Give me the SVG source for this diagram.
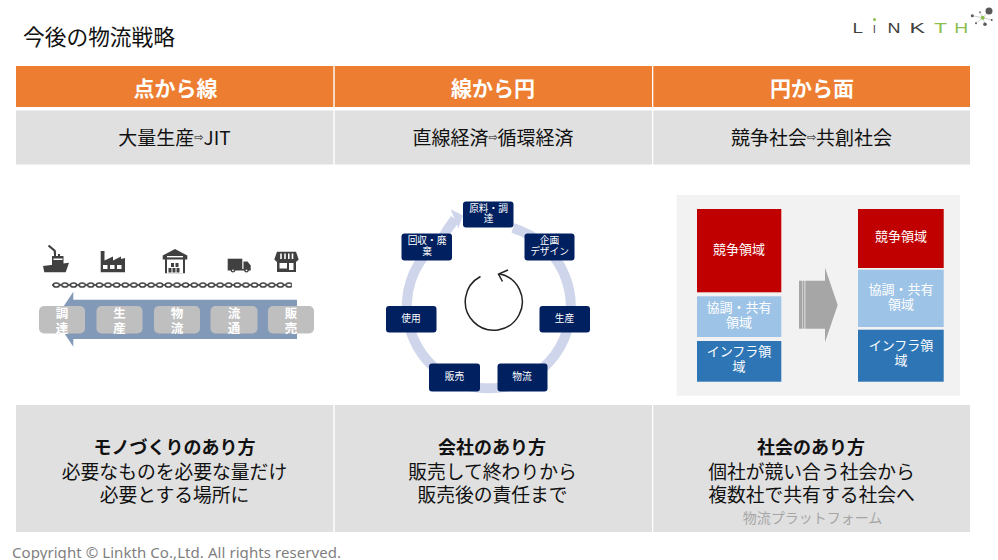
<svg xmlns="http://www.w3.org/2000/svg" width="998" height="560" viewBox="0 0 998 560">
<style>
text{font-family:"Noto Sans CJK JP","Noto Sans",sans-serif;text-anchor:middle;dominant-baseline:central}
.hd{fill:#ED7D31}.gy{fill:#E0E0E0}
.ht{font-size:21px;fill:#fff;font-weight:700}
.st{font-size:19px;fill:#111}
.sa{font-size:11px;font-family:"DejaVu Sans",sans-serif;fill:#111}
.bt{font-size:18px;fill:#111;font-weight:700}
.bl{font-size:18.8px;fill:#111;font-weight:400}
.pill{fill:#BFBFBF}
.pt{font-size:12.5px;fill:#fff;font-weight:700}
.cn{fill:#002060}
.ct{font-size:9.7px;fill:#fff}
.ic{fill:#404040}.wh{fill:#fff}
.rt{font-size:13px;fill:#fff}
.red{fill:#C00000}.lb{fill:#9DC3E6}.blu{fill:#2E75B6}
.lg{font-family:"Liberation Sans",sans-serif;font-size:15px;text-anchor:start;dominant-baseline:alphabetic}
.dk{fill:#404040}.gn{fill:#8CBF4F}
</style>
<defs>
<pattern id="chain" x="52" y="280" width="8.62" height="10" patternUnits="userSpaceOnUse">
<line x1="0" y1="5" x2="8.62" y2="5" stroke="#404040" stroke-width="1.6"/>
<ellipse cx="4.3" cy="5" rx="3" ry="2.1" fill="#fff" stroke="#404040" stroke-width="1.5"/>
</pattern>
</defs>
<rect width="998" height="560" fill="#fff"/>
<text id="title" x="99" y="35" font-size="21.7" fill="#111">今後の物流戦略</text>
<g id="logo">
<text class="lg dk" x="852.500" y="32.500" textLength="10.500" lengthAdjust="spacingAndGlyphs">L</text>
<text class="lg dk" x="872.800" y="32.500" textLength="3.200" lengthAdjust="spacingAndGlyphs">ı</text>
<text class="lg dk" x="887.500" y="32.500" textLength="13" lengthAdjust="spacingAndGlyphs">N</text>
<text class="lg dk" x="909.500" y="32.500" textLength="15.500" lengthAdjust="spacingAndGlyphs">K</text>
<text class="lg gn" x="934" y="32.500" textLength="13" lengthAdjust="spacingAndGlyphs">T</text>
<text class="lg gn" x="954.300" y="32.500" textLength="14" lengthAdjust="spacingAndGlyphs">H</text>
<circle cx="874.500" cy="19.500" r="1.500" class="gn"/>
<path d="M972.300,15.700L982.700,17.700L989,11M980,12.300L982.700,17.700L985,24.300M976,23.300L982.700,17.700L991.700,20" stroke="#A6A6A6" stroke-width="0.500" fill="none"/>
<circle cx="989" cy="11" r="3.500" fill="#595959"/>
<circle cx="982.700" cy="17.700" r="2" class="gn"/>
<circle cx="972.300" cy="15.700" r="1.500" fill="#595959"/>
<circle cx="980" cy="12.300" r="1" fill="#7F7F7F"/>
<circle cx="976" cy="23.300" r="1" fill="#595959"/>
<circle cx="991.700" cy="20" r="1" fill="#595959"/>
<circle cx="985" cy="24.300" r="1.800" fill="#595959"/>
</g>
<g id="col1-header"><rect class="hd" x="16" y="66" width="317.300" height="41"/><text class="ht" x="175.500" y="86.500">点から線</text></g>
<g id="col2-header"><rect class="hd" x="334.700" y="66" width="317.300" height="41"/><text class="ht" x="493" y="86.500">線から円</text></g>
<g id="col3-header"><rect class="hd" x="653.300" y="66" width="316.700" height="41"/><text class="ht" x="812" y="86.500">円から面</text></g>
<g id="col1-sub"><rect class="gy" x="16" y="110.500" width="317.300" height="54"/><text class="st" x="174.500" y="136.500">大量生産<tspan class="sa">⇨</tspan>JIT</text></g>
<g id="col2-sub"><rect class="gy" x="334.700" y="110.500" width="317.300" height="54"/><text class="st" x="493" y="136.500">直線経済<tspan class="sa">⇨</tspan>循環経済</text></g>
<g id="col3-sub"><rect class="gy" x="653.300" y="110.500" width="316.700" height="54"/><text class="st" x="811.500" y="136.500">競争社会<tspan class="sa">⇨</tspan>共創社会</text></g>

<g id="icons">
<g id="icon-ship" class="ic">
<path d="M48.500,245.500L54.700,250.700L55,254" stroke="#404040" stroke-width="2.200" fill="none"/>
<path d="M52,265V256h2v-2h2v2h2v-2h2v2h3.500v9z"/>
<rect class="wh" x="53.500" y="258.500" width="9" height="1.500"/>
<path d="M43,266L69,262.700L65.700,272.300H44.300Z"/>
</g>
<g id="icon-factory">
<path class="ic" d="M100.700,272.300V251H104.500V260.500L113,256.500V260.500L121,256.500V259L125,258V272.300Z"/>
<rect class="wh" x="103" y="265" width="4.500" height="4"/><rect class="wh" x="110" y="265" width="4.500" height="4"/><rect class="wh" x="117" y="265" width="4.500" height="4"/>
</g>
<g id="icon-warehouse">
<path class="ic" d="M162.700,255.500L175,249L187.300,255.500V259.500H185V273.300H165V259.500H162.700Z"/>
<rect class="wh" x="167" y="256" width="16" height="1.400"/>
<rect class="wh" x="167" y="259.500" width="16" height="13.800"/>
<rect class="ic" x="171" y="263" width="3" height="4"/><rect class="ic" x="175.500" y="263" width="3" height="4"/>
<rect class="ic" x="168.500" y="268" width="3" height="4.500"/><rect class="ic" x="172.500" y="268" width="3" height="4.500"/><rect class="ic" x="176.500" y="268" width="3" height="4.500"/>
</g>
<g id="icon-truck">
<rect class="ic" x="227.700" y="258.700" width="14.600" height="10.300"/>
<path class="ic" d="M243.500,261.500H247.500L250.700,265.500V269.500H243.500Z"/>
<rect class="ic" x="227.700" y="269" width="23" height="1.500"/>
<circle class="ic" cx="233" cy="270.300" r="2.300"/><circle class="ic" cx="246.500" cy="270.300" r="2.300"/>
<circle class="wh" cx="233" cy="270.300" r="0.900"/><circle class="wh" cx="246.500" cy="270.300" r="0.900"/>
</g>
<g id="icon-shop">
<path class="ic" d="M277,251.700H296L298.700,259.500L296,262V272H277V262L274.300,259.500Z"/>
<path d="M281,253.500V259M285,253.500V259M288.800,253.500V259M292.500,253.500V259" stroke="#fff" stroke-width="1.600"/>
<rect class="wh" x="279.500" y="263" width="7.500" height="5.500"/>
<rect class="wh" x="289" y="263" width="4.500" height="7"/>
</g>
</g>
<rect id="chain-bar" x="52" y="280" width="240" height="10" fill="url(#chain)"/>

<rect id="panel" x="676.700" y="195" width="283.300" height="200.700" fill="#F2F2F2"/>

<g id="connectors">
<polygon id="flow-arrow" points="297,299.700 73.300,299.700 73.300,291.700 55,319.300 73.300,346.700 73.300,339 297,339" fill="#829AB8"/>
<path id="cycle-ring" d="M513,228A82,82 0 1 1 442,239Q447,229 455,219" fill="none" stroke="#CFD5EA" stroke-width="10"/>
<polygon id="cycle-head" points="450.700,209.300 463,215.500 458.300,228.300" fill="#CFD5EA"/>
<path id="center-arrow" d="M480.500,276.500A28.500,28.500 0 1 0 499,273.700" fill="none" stroke="#222" stroke-width="1.500"/>
<path id="center-head" d="M508,270L498.500,274L502.500,281.500" fill="none" stroke="#222" stroke-width="1.500"/>
<g id="shift-arrow" fill="#A6A6A6">
<polygon points="805.300,280.700 825,280.700 825,267.700 837.700,305 825,342.300 825,328.700 805.300,328.700"/>
<rect x="799" y="280.700" width="3.500" height="48"/>
<rect x="803" y="280.700" width="1.500" height="48"/>
</g>
</g>

<g id="n-chotatsu"><rect class="pill" x="39" y="306" width="46" height="27.500" rx="5"/><text class="pt"><tspan x="62" y="312">調</tspan><tspan x="62" y="326.500">達</tspan></text></g>
<g id="n-seisan"><rect class="pill" x="96.500" y="306" width="46" height="27.500" rx="5"/><text class="pt"><tspan x="119.500" y="312">生</tspan><tspan x="119.500" y="326.500">産</tspan></text></g>
<g id="n-butsuryu"><rect class="pill" x="154" y="306" width="46" height="27.500" rx="5"/><text class="pt"><tspan x="177" y="312">物</tspan><tspan x="177" y="326.500">流</tspan></text></g>
<g id="n-ryutsu"><rect class="pill" x="210.500" y="306" width="47" height="27.500" rx="5"/><text class="pt"><tspan x="234" y="312">流</tspan><tspan x="234" y="326.500">通</tspan></text></g>
<g id="n-hanbai"><rect class="pill" x="268" y="306" width="46" height="27.500" rx="5"/><text class="pt"><tspan x="291" y="312">販</tspan><tspan x="291" y="326.500">売</tspan></text></g>

<g id="c-genryo"><rect class="cn" x="463" y="201.500" width="50.500" height="26" rx="3"/><text class="ct"><tspan x="488.500" y="207.500">原料・調</tspan><tspan x="488.500" y="218">達</tspan></text></g>
<g id="c-kikaku"><rect class="cn" x="524.500" y="233.500" width="50" height="27" rx="3"/><text class="ct"><tspan x="549.500" y="240">企画</tspan><tspan x="549.500" y="250.500">デザイン</tspan></text></g>
<g id="c-seisan"><rect class="cn" x="539.500" y="306" width="50.500" height="26.500" rx="3"/><text class="ct" x="564.500" y="317.500">生産</text></g>
<g id="c-butsuryu"><rect class="cn" x="497.500" y="363.500" width="50" height="28" rx="3"/><text class="ct" x="522" y="376">物流</text></g>
<g id="c-hanbai"><rect class="cn" x="429" y="363.500" width="51" height="28" rx="3"/><text class="ct" x="454.500" y="376">販売</text></g>
<g id="c-shiyo"><rect class="cn" x="386" y="306" width="50.500" height="26.500" rx="3"/><text class="ct" x="411" y="317.500">使用</text></g>
<g id="c-kaishu"><rect class="cn" x="401.500" y="233.500" width="50.500" height="27" rx="3"/><text class="ct"><tspan x="427" y="240">回収・廃</tspan><tspan x="427" y="250.500">棄</tspan></text></g>

<g id="l-compete"><rect class="red" x="697" y="209" width="84.300" height="83.300"/><text class="rt" x="739" y="248.500">競争領域</text></g>
<g id="l-coop"><rect class="lb" x="697" y="296.300" width="84.300" height="40.700"/><text class="rt"><tspan x="739" y="305.800">協調・共有</tspan><tspan x="739" y="321.200">領域</tspan></text></g>
<g id="l-infra"><rect class="blu" x="697" y="341" width="84.300" height="40.700"/><text class="rt"><tspan x="739" y="350.200">インフラ領</tspan><tspan x="739" y="365.200">域</tspan></text></g>
<g id="r-compete"><rect class="red" x="858" y="209" width="85.700" height="59"/><text class="rt" x="901" y="235.200">競争領域</text></g>
<g id="r-coop"><rect class="lb" x="858" y="269.700" width="85.700" height="57.300"/><text class="rt"><tspan x="901" y="287.500">協調・共有</tspan><tspan x="901" y="302.800">領域</tspan></text></g>
<g id="r-infra"><rect class="blu" x="858" y="329.700" width="85.700" height="52"/><text class="rt"><tspan x="901" y="343.500">インフラ領</tspan><tspan x="901" y="358.500">域</tspan></text></g>

<g id="col1-foot"><rect class="gy" x="16" y="405" width="317.300" height="127"/><text class="bl"><tspan class="bt" x="174.500" y="446">モノづくりのあり方</tspan><tspan x="174.500" y="469.500">必要なものを必要な量だけ</tspan><tspan x="174.500" y="492.500">必要とする場所に</tspan></text></g>
<g id="col2-foot"><rect class="gy" x="334.700" y="405" width="317.300" height="127"/><text class="bl"><tspan class="bt" x="492" y="446">会社のあり方</tspan><tspan x="492.500" y="469.500">販売して終わりから</tspan><tspan x="492.500" y="492.500">販売後の責任まで</tspan></text></g>
<g id="col3-foot"><rect class="gy" x="653.300" y="405" width="316.700" height="127"/><text class="bl"><tspan class="bt" x="811" y="446">社会のあり方</tspan><tspan x="811.500" y="469.500">個社が競い合う社会から</tspan><tspan x="811.500" y="492.500">複数社で共有する社会へ</tspan></text><text x="812.500" y="516.500" font-size="14" fill="#A6A6A6">物流プラットフォーム</text></g>
<text id="copyright" x="12" y="551.500" font-size="15" fill="#7F7F7F" style="text-anchor:start;font-family:'Noto Sans',sans-serif" textLength="329">Copyright © Linkth Co.,Ltd. All rights reserved.</text>
</svg>
